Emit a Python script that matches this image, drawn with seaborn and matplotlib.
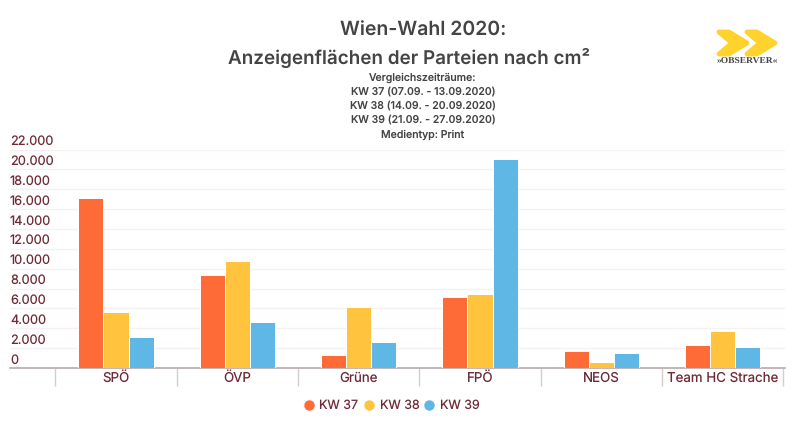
import matplotlib
matplotlib.use('Agg')
import matplotlib.pyplot as plt
from matplotlib.patches import Polygon
import pandas as pd
import seaborn as sns

parties = ["SPÖ", "ÖVP", "Grüne", "FPÖ", "NEOS", "Team HC Strache"]
weeks = ["KW 37", "KW 38", "KW 39"]
kw37 = [17120, 9340, 1260, 7150, 1720, 2340]
kw38 = [5680, 10760, 6100, 7500, 640, 3700]
kw39 = [3170, 4680, 2660, 21060, 1520, 2140]
y_ticks = list(range(0, 22001, 2000))
y_labels = ["0", "2.000", "4.000", "6.000", "8.000", "10.000", "12.000",
            "14.000", "16.000", "18.000", "20.000", "22.000"]
colors = ["#FF6B37", "#FFC33D", "#5FB7E6"]

df = pd.DataFrame({"party": parties * 3,
                   "week": [w for w in weeks for _ in parties],
                   "value": kw37 + kw38 + kw39})

W, H = 810, 423
sns.set_theme(style="white")
plt.rcParams['font.family'] = ['Inter', 'DejaVu Sans']
plt.rcParams['text.hinting'] = 'none'
label_col = "#6E2B35"
head_col = "#444444"

fig = plt.figure(figsize=(W / 100, H / 100), dpi=100)
# axes from pixel positions in the reference
ax = fig.add_axes([10 / W, 1 - 368 / H, 775 / W, (368 - 149.6) / H])
sns.barplot(data=df, x="party", y="value", hue="week", palette=colors, order=parties,
            hue_order=weeks, width=0.62, saturation=1, edgecolor="white", linewidth=0.7,
            errorbar=None, legend=False, ax=ax, zorder=3)

ax.set_xlim(-0.5 - 45.3 / 121.3, 5.5 + 1.7 / 121.3)
ax.set_ylim(0, 22000)
ax.set_xlabel("")
ax.set_ylabel("")
sns.despine(ax=ax, left=True, top=True, right=True)
ax.spines['bottom'].set_color("#B9A9AD")
ax.spines['bottom'].set_linewidth(1.2)
ax.set_yticks(y_ticks)
ax.set_yticklabels([])
ax.tick_params(axis='y', length=0)
ax.yaxis.grid(True, color="#F6F0F1", linewidth=1)
ax.set_axisbelow(True)

# labels sit above their gridlines, left aligned
for v, lab in zip(y_ticks, y_labels):
    ax.annotate(lab, (0, v), xycoords=ax.get_yaxis_transform(), xytext=(0, 8),
                textcoords='offset pixels', ha='left', va='center',
                fontsize=9.2, color=label_col)

# separators between the categories, labels centred between them
ax.set_xticks([i - 0.5 for i in range(7)])
ax.set_xticklabels([])
ax.tick_params(axis='x', length=13, width=1, color="#D5CCCE", bottom=True)
for i, p in enumerate(parties):
    ax.annotate(p, (i, 0), xycoords=ax.get_xaxis_transform(), xytext=(0, -10),
                textcoords='offset pixels', ha='center', va='center',
                fontsize=9.6, color=label_col)


def fig_text(x, y, s, **kw):
    fig.text(x / W, 1 - y / H, s, ha='center', va='center', **kw)


fig_text(423, 31, "Wien-Wahl 2020:", fontsize=14, fontweight='semibold', color=head_col)
fig_text(409, 58, "Anzeigenflächen der Parteien nach cm²", fontsize=13.6, fontweight='semibold', color=head_col)
sub_lines = ["Vergleichszeiträume:", "KW 37 (07.09. - 13.09.2020)", "KW 38 (14.09. - 20.09.2020)",
             "KW 39 (21.09. - 27.09.2020)", "Medientyp: Print"]
for y, line in zip([78, 92, 106, 120, 135], sub_lines):
    fig_text(423, y, line, fontsize=7.6, fontweight='medium', color=head_col)

# legend
for x, name, col in zip([308.7, 369, 429], weeks, colors):
    fig.add_artist(plt.Line2D([x / W], [1 - 405 / H], marker='o', markersize=6.5, color=col, linestyle=''))
    fig.text((x + 10.5) / W, 1 - 405 / H, name, ha='left', va='center', fontsize=9, color=label_col)

# logo
logo = "#FFD22E"
for dx in [0, 28]:
    pts = [(719, 32), (729, 32), (747, 43), (729, 54), (719, 54), (732, 43)]
    fig.add_artist(Polygon([((x + dx) / W, 1 - y / H) for x, y in pts], closed=True, facecolor=logo,
                           edgecolor=logo, linewidth=3.5, joinstyle='round', transform=fig.transFigure))
fig_text(747, 62, "»OBSERVER«", fontsize=6.8, fontweight='bold', family='Liberation Serif', color="#444444")

fig.savefig("out.png", dpi=100)
